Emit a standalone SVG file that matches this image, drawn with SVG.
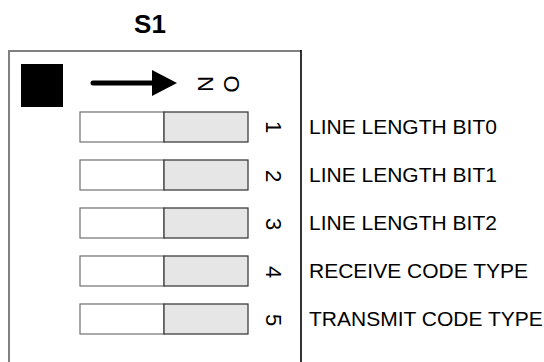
<svg xmlns="http://www.w3.org/2000/svg" width="544" height="362" viewBox="0 0 544 362">
<style>
.sw-l{fill:#ffffff;stroke:#707070;stroke-width:1.2}
.sw-r{fill:#e6e6e6;stroke:#303030;stroke-width:1.2}
.lbl{font-family:"Liberation Sans",Arial,sans-serif;font-size:21px;fill:#000}
.num{font-family:"Liberation Sans",Arial,sans-serif;font-size:22px;fill:#000;text-anchor:middle}
</style>
<rect width="544" height="362" fill="#fff"/>
<g id="title"><text x="150" y="33" font-family="Liberation Sans,Arial,sans-serif" font-weight="bold" font-size="26" text-anchor="middle">S1</text></g>
<g id="frame">
<line x1="8" y1="51" x2="301" y2="51" stroke="#808080" stroke-width="2"/>
<line x1="9" y1="51" x2="9" y2="362" stroke="#808080" stroke-width="2"/>
<line x1="301" y1="50" x2="301" y2="362" stroke="#000" stroke-width="1.6"/>
</g>
<g id="indicator"><rect x="21" y="64" width="42" height="43" fill="#000"/></g>
<g id="arrow">
<line x1="93" y1="83" x2="156" y2="83" stroke="#000" stroke-width="5" stroke-linecap="round"/>
<polygon points="152,70 177,83 152,96" fill="#000"/>
</g>
<g id="on-label">
<text class="num" font-size="21" transform="translate(198,84) rotate(90)">N</text>
<text class="num" font-size="21" transform="translate(224,84) rotate(90)">O</text>
</g>
<g id="switch1">
<rect class="sw-l" x="80" y="112" width="84" height="30"/><rect class="sw-r" x="164" y="112" width="84" height="30"/>
<text class="num" transform="translate(266,127) rotate(90)">1</text>
<text class="lbl" x="309" y="134">LINE LENGTH BIT0</text>
</g>
<g id="switch2">
<rect class="sw-l" x="80" y="160" width="84" height="30"/><rect class="sw-r" x="164" y="160" width="84" height="30"/>
<text class="num" transform="translate(266,176) rotate(90)">2</text>
<text class="lbl" x="309" y="182">LINE LENGTH BIT1</text>
</g>
<g id="switch3">
<rect class="sw-l" x="80" y="208" width="84" height="30"/><rect class="sw-r" x="164" y="208" width="84" height="30"/>
<text class="num" transform="translate(266,224) rotate(90)">3</text>
<text class="lbl" x="309" y="230">LINE LENGTH BIT2</text>
</g>
<g id="switch4">
<rect class="sw-l" x="80" y="256" width="84" height="30"/><rect class="sw-r" x="164" y="256" width="84" height="30"/>
<text class="num" transform="translate(266,272) rotate(90)">4</text>
<text class="lbl" x="309" y="278">RECEIVE CODE TYPE</text>
</g>
<g id="switch5">
<rect class="sw-l" x="80" y="304" width="84" height="30"/><rect class="sw-r" x="164" y="304" width="84" height="30"/>
<text class="num" transform="translate(266,320) rotate(90)">5</text>
<text class="lbl" x="309" y="326">TRANSMIT CODE TYPE</text>
</g>
<g id="connectors"></g>
</svg>
